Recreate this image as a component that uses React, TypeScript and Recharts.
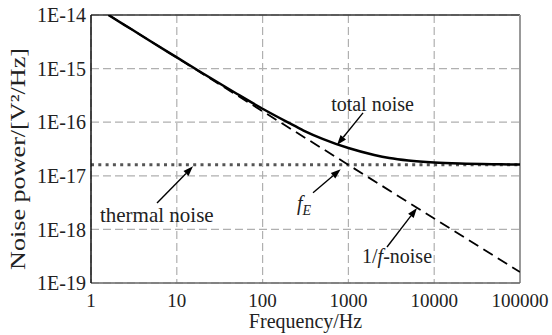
import {
  CartesianGrid,
  Line,
  LineChart,
  ReferenceDot,
  ReferenceLine,
  XAxis,
  YAxis,
} from "recharts";

const FONT = "Liberation Serif, Times New Roman, DejaVu Serif, serif";

const freqTicks = [1, 10, 100, 1000, 10000, 100000];
const powerTicks = [1e-19, 1e-18, 1e-17, 1e-16, 1e-15, 1e-14];

const totalFreq = [1.6, 2, 3, 5, 10, 20, 50, 100, 200, 300, 500, 1000, 2000, 3000, 5000, 10000, 20000, 50000, 100000];
const totalPower = [
  1.0e-14, 8.0e-15, 5.35e-15, 3.2e-15, 1.62e-15, 8.2e-16, 3.4e-16, 1.78e-16, 9.8e-17, 7.0e-17,
  4.9e-17, 3.3e-17, 2.45e-17, 2.15e-17, 1.93e-17, 1.77e-17, 1.69e-17, 1.64e-17, 1.62e-17,
];

const flickerFreq = [1.6, 100000];
const flickerPower = [1.0e-14, 1.6e-19];

const thermalFreq = [1, 100000];
const thermalPower = [1.6e-17, 1.6e-17];

// annotation arrows: tail -> tip, in data units
const arrows = [
  { from: [1480, 1.49e-16], to: [736, 3.76e-17] },
  { from: [387, 4.84e-18], to: [813, 1.32e-17] },
  { from: [2818, 4.69e-19], to: [6300, 2.51e-18] },
  { from: [5.88, 3.11e-18], to: [15.45, 1.5e-17] },
];

const toRows = (f: number[], p: number[]) => f.map((x, i) => ({ f: x, p: p[i] }));

const totalData = toRows(totalFreq, totalPower);
const flickerData = toRows(flickerFreq, flickerPower);
const thermalData = toRows(thermalFreq, thermalPower);

const fmtPower = (v: number) => `1E${Math.round(Math.log10(v))}`;

const Arrow = (props: any) => {
  const { x1, y1, x2, y2 } = props;
  const a = Math.atan2(y2 - y1, x2 - x1);
  const len = 10;
  const w = 3.5;
  const bx = x2 - len * Math.cos(a);
  const by = y2 - len * Math.sin(a);
  const px = -Math.sin(a) * w;
  const py = Math.cos(a) * w;
  return (
    <g>
      <line x1={x1} y1={y1} x2={bx} y2={by} stroke="#000" strokeWidth={1.4} />
      <polygon points={`${x2},${y2} ${bx + px},${by + py} ${bx - px},${by - py}`} fill="#000" />
    </g>
  );
};

const textStyle = { style: { fontFamily: FONT }, fontSize: 20, fill: "#222" };

export default function App() {
  return (
    <div style={{ position: "absolute", left: 0, top: 0, background: "#fff", fontFamily: FONT }}>
      <LineChart
        width={552}
        height={335}
        margin={{ top: 15, right: 32, left: 0, bottom: 0 }}
        style={{ fontFamily: FONT }}
      >
        <CartesianGrid stroke="#b0b0b0" strokeDasharray="8 4" strokeWidth={1.2} />
        <XAxis
          dataKey="f"
          type="number"
          scale="log"
          domain={[1, 100000]}
          ticks={freqTicks}
          allowDataOverflow
          height={52}
          tickSize={0}
          tickMargin={11}
          interval={0}
          axisLine={{ stroke: "#666", strokeWidth: 1.5 }}
          tick={{ style: { fontFamily: FONT }, fontSize: 19, fill: "#222" }}
          label={{
            content: (p: any) => (
              <text x={p.viewBox.x + p.viewBox.width / 2} y={328} textAnchor="middle" {...textStyle}>
                Frequency/Hz
              </text>
            ),
          }}
        />
        <YAxis
          dataKey="p"
          type="number"
          scale="log"
          domain={[1e-19, 1e-14]}
          ticks={powerTicks}
          allowDataOverflow
          width={91}
          tickSize={0}
          tickMargin={5}
          interval={0}
          tickFormatter={fmtPower}
          axisLine={{ stroke: "#111", strokeWidth: 1.5 }}
          tick={{ style: { fontFamily: FONT }, fontSize: 20, fill: "#222" }}
          label={{
            content: (p: any) => {
              const cy = p.viewBox.y + p.viewBox.height / 2 + 10;
              return (
                <text
                  x={25}
                  y={cy}
                  transform={`rotate(-90 25 ${cy})`}
                  textAnchor="middle"
                  {...textStyle}
                  fontSize={21}
                  textLength={222}
                  lengthAdjust="spacingAndGlyphs"
                >
                  Noise power/[V²/Hz]
                </text>
              );
            },
          }}
        />
        <ReferenceLine y={1e-14} stroke="#333" strokeWidth={1.5} />
        <ReferenceLine x={100000} stroke="#999" strokeWidth={2} />

        <Line
          data={thermalData}
          dataKey="p"
          stroke="#555"
          strokeWidth={3}
          strokeDasharray="3 4.3"
          dot={false}
          isAnimationActive={false}
        />
        <Line
          data={flickerData}
          dataKey="p"
          stroke="#000"
          strokeWidth={1.8}
          strokeDasharray="11 6"
          dot={false}
          isAnimationActive={false}
        />
        <Line
          data={totalData}
          dataKey="p"
          type="monotone"
          stroke="#000"
          strokeWidth={2.5}
          dot={false}
          isAnimationActive={false}
        />

        {arrows.map((a, i) => (
          <ReferenceLine
            key={i}
            segment={[
              { x: a.from[0], y: a.from[1] },
              { x: a.to[0], y: a.to[1] },
            ]}
            shape={Arrow}
          />
        ))}

        <ReferenceDot
          x={1910}
          y={1.62e-16}
          r={0}
          shape={(p: any) => (
            <text x={p.cx} y={p.cy} textAnchor="middle" {...textStyle}>
              total noise
            </text>
          )}
        />
        <ReferenceDot
          x={252}
          y={2.3e-18}
          r={0}
          shape={(p: any) => (
            <text x={p.cx} y={p.cy} {...textStyle}>
              <tspan fontStyle="italic">f</tspan>
              <tspan fontStyle="italic" fontSize={14} dy={5}>E</tspan>
            </text>
          )}
        />
        <ReferenceDot
          x={1442}
          y={2.36e-19}
          r={0}
          shape={(p: any) => (
            <text x={p.cx} y={p.cy} {...textStyle}>
              1/<tspan fontStyle="italic">f</tspan>-noise
            </text>
          )}
        />
        <ReferenceDot
          x={1.27}
          y={1.37e-18}
          r={0}
          shape={(p: any) => (
            <text x={p.cx} y={p.cy} {...textStyle} fontSize={21}>
              thermal noise
            </text>
          )}
        />
      </LineChart>
    </div>
  );
}
